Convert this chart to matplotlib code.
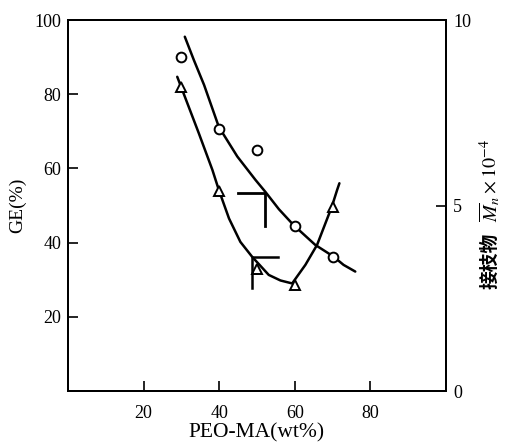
import numpy as np
import matplotlib.pyplot as plt

plt.rcParams['font.family'] = ['Liberation Serif', 'Noto Sans CJK SC']
plt.rcParams['mathtext.fontset'] = 'stix'

# measured points
peo = [30, 40, 50, 60, 70]
ge = [90, 70.5, 65, 44.5, 36]          # circles, left axis
mn = [8.2, 5.4, 3.3, 2.85, 4.97]       # triangles, right axis

# hand drawn curves
ge_curve_x = [30.9, 33.3, 36.0, 39.9, 44.8, 49.6, 52.2, 55.8, 59.7, 65.4, 70.3, 72.9, 76.0]
ge_curve_y = [95.5, 89.2, 82.5, 71.2, 63.2, 56.9, 53.7, 49.0, 44.7, 39.4, 36.2, 34.0, 32.2]
mn_curve_x = [28.9, 34.6, 38.2, 39.9, 42.6, 45.6, 48.7, 53.1, 56.2, 59.3, 62.8, 65.9, 69.8, 71.2, 71.8]
mn_curve_y = [8.47, 6.95, 5.96, 5.42, 4.65, 4.02, 3.62, 3.13, 2.98, 2.90, 3.40, 3.94, 4.97, 5.42, 5.6]

# axis indicator marks
ge_mark_x = [45.1, 52.1, 52.1]
ge_mark_y = [53.5, 53.5, 44.5]
mn_mark_x = [55.6, 48.6, 48.6]
mn_mark_y = [3.62, 3.62, 2.77]

fig = plt.figure(figsize=(5.06, 4.45), dpi=100)
ax = fig.add_axes([0.1344, 0.1213, 0.747, 0.8337])
ax2 = ax.twinx()

ax.plot(ge_curve_x, ge_curve_y, color='black', lw=1.8, solid_capstyle='round', solid_joinstyle='round')
ax.plot(peo, ge, linestyle='none', marker='o', ms=7, mfc='white', mec='black', mew=1.4)
ax.plot(ge_mark_x, ge_mark_y, color='black', lw=2.0)

ax2.plot(mn_curve_x, mn_curve_y, color='black', lw=1.8, solid_capstyle='round', solid_joinstyle='round')
ax2.plot(peo, mn, linestyle='none', marker='^', ms=7, mfc='white', mec='black', mew=1.4)
ax2.plot(mn_mark_x, mn_mark_y, color='black', lw=1.8)

ax.set_xlim(0, 100)
ax.set_ylim(0, 100)
ax2.set_ylim(0, 10)

ax.set_xticks([20, 40, 60, 80])
ax.set_yticks([20, 40, 60, 80, 100])
ax2.set_yticks([0, 5, 10])

ax.tick_params(direction='in', length=7, width=1.2, labelsize=13, pad=5)
ax.tick_params(axis='x', pad=10)
ax2.tick_params(direction='in', length=7, width=1.2, labelsize=13, pad=5)

for a in (ax, ax2):
    for s in a.spines.values():
        s.set_linewidth(1.4)

ax.set_xlabel('PEO-MA(wt%)', fontsize=15.5, labelpad=1)
ax.set_ylabel('GE(%)', fontsize=14, labelpad=6)

# right axis label: CJK part and math part drawn separately
fig.text(0.968, 0.350, '接枝物', rotation=90, ha='center', va='bottom',
         fontsize=13.5, fontweight='bold', family=['Noto Sans CJK SC'])
fig.text(0.968, 0.502, r'$\overline{M}_n\times10^{-4}$', rotation=90, ha='center', va='bottom',
         fontsize=14.5)

fig.savefig('out.png', dpi=100)
